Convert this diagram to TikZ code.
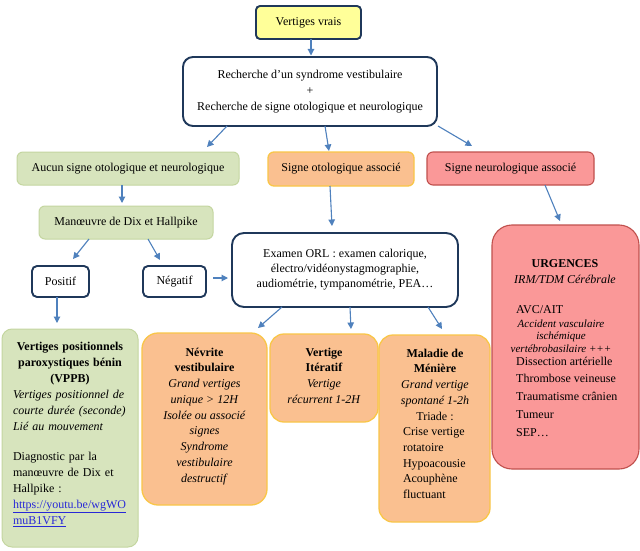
\documentclass[tikz,border=0pt]{standalone}
\usepackage{fontspec}
\setmainfont{Liberation Serif}
\usetikzlibrary{arrows.meta}
\definecolor{navy}{RGB}{31,56,90}
\definecolor{yel}{RGB}{255,255,153}
\definecolor{grfill}{RGB}{215,228,189}
\definecolor{grdraw}{RGB}{196,214,160}
\definecolor{orfill}{RGB}{250,192,144}
\definecolor{ordraw}{RGB}{249,198,72}
\definecolor{rdfill}{RGB}{250,152,152}
\definecolor{rddraw}{RGB}{192,80,77}
\definecolor{arrblue}{RGB}{79,129,189}
\definecolor{linkblue}{RGB}{40,40,215}
\begin{document}
\begin{tikzpicture}[x=1pt,y=-1pt,
  base/.style={inner sep=0pt, outer sep=0pt, font=\fontsize{12}{16}\selectfont, align=center},
  navybox/.style={base, draw=navy, line width=1.9pt, fill=white},
  greenbox/.style={base, draw=grdraw, line width=1pt, fill=grfill, rounded corners=6pt},
  orangebox/.style={base, draw=ordraw, line width=1.3pt, fill=orfill},
  redbox/.style={base, draw=rddraw, line width=1.1pt, fill=rdfill},
  txt/.style={inner sep=0pt, outer sep=0pt, font=\fontsize{12}{15.75}\selectfont},
  arr/.style={draw=arrblue, line width=1.1pt, -{Triangle[length=6.5pt,width=6.5pt]}}
]
\useasboundingbox[fill=white] (0,0) rectangle (640,551);

% top
\node[navybox, fill=yel, rounded corners=4pt, minimum width=105pt, minimum height=33pt] (vrais) at (308.5,22.5) {Vertiges vrais};
\node[navybox, rounded corners=10pt, minimum width=254pt, minimum height=69pt] (rech) at (310,91.5)
  {Recherche d’un syndrome vestibulaire\\+\\Recherche de signe otologique et neurologique};

% second row
\node[greenbox, minimum width=222pt, minimum height=33pt] (aucun) at (128,168.5) {Aucun signe otologique et neurologique};
\node[orangebox, rounded corners=6pt, minimum width=146pt, minimum height=34pt] (oto) at (341,169) {Signe otologique associé};
\node[redbox, rounded corners=6pt, minimum width=167pt, minimum height=33pt] (neuro) at (510.5,168.5) {Signe neurologique associé};

\node[greenbox, minimum width=174pt, minimum height=33pt] (dix) at (126,222.5) {Manœuvre de Dix et Hallpike};

\node[navybox, rounded corners=5pt, minimum width=57pt, minimum height=31pt] (pos) at (60.5,281.5) {Positif};
\node[navybox, rounded corners=5pt, minimum width=63pt, minimum height=31pt] (neg) at (174.5,281.5) {Négatif};
\node[navybox, rounded corners=12pt, minimum width=226pt, minimum height=74pt, font=\fontsize{12}{15}\selectfont] (exam) at (345,270)
  {Examen ORL : examen calorique,\\électro/vidéonystagmographie,\\audiométrie, tympanométrie, PEA…};

% urgences
\node[redbox, rounded corners=20pt, minimum width=147pt, minimum height=244pt] (urg) at (565.5,347) {};
\node[base, anchor=north] (urgT) at (565,255.8) {\strut\textbf{URGENCES}\\\textit{IRM/TDM Cérébrale}};
\node[base, anchor=north west] (urgA) at (516,301.8) {\strut AVC/AIT};
\node[inner sep=0pt, anchor=north, align=center, font=\fontsize{11}{12.7}\selectfont\itshape] (urgI) at (561,318)
  {\strut Accident vasculaire\\ischémique\\vertébrobasilaire +++};
\node[inner sep=0pt, anchor=north west, align=left, font=\fontsize{12}{17.75}\selectfont] (urgL) at (516,352.5)
  {\strut Dissection artérielle\\Thrombose veineuse\\Traumatisme crânien\\Tumeur\\SEP…};

% bottom boxes
\node[greenbox, rounded corners=10pt, minimum width=136pt, minimum height=218pt] (vppb) at (70,438) {};
\node[inner sep=0pt, anchor=north, text width=114pt, align=left, font=\fontsize{12}{16}\selectfont] (vppbT) at (70,338.8)
  {{\centering\strut\textbf{Vertiges positionnels}\\\textbf{paroxystiques bénin}\\\textbf{(VPPB)}\par}%
   \textit{Vertiges positionnel de}\\\textit{courte durée (seconde)}\\\textit{Lié au mouvement}\\[14pt]%
   Diagnostic par la\\manœuvre de Dix et\\Hallpike :\\%
   \textcolor{linkblue}{\underline{https://youtu.be/wgWO}}\\\textcolor{linkblue}{\underline{muB1VFY}}};

\node[orangebox, rounded corners=16pt, minimum width=125pt, minimum height=172pt] (nev) at (204.5,419) {};
\node[txt, anchor=north, align=center] (nevT) at (204.5,345)
  {\strut\textbf{Névrite}\\\textbf{vestibulaire}\\\textit{Grand vertiges}\\\textit{unique > 12H}\\\textit{Isolée ou associé}\\\textit{signes}\\\textit{Syndrome}\\\textit{vestibulaire}\\\textit{destructif}};

\node[orangebox, rounded corners=14pt, minimum width=108pt, minimum height=88pt] (iter) at (324,378) {};
\node[txt, anchor=north, align=center] (iterT) at (324,345)
  {\strut\textbf{Vertige}\\\textbf{Itératif}\\\textit{Vertige}\\\textit{récurrent 1-2H}};

\node[orangebox, rounded corners=14pt, minimum width=111pt, minimum height=187pt] (men) at (434.5,428.5) {};
\node[txt, anchor=north, align=center] (menT) at (435,346)
  {\strut\textbf{Maladie de}\\\textbf{Ménière}\\\textit{Grand vertige}\\\textit{spontané 1-2h}\\Triade :};
\node[txt, anchor=north west, align=left] (menL) at (403,424.5)
  {\strut Crise vertige\\rotatoire\\Hypoacousie\\Acouphène\\fluctuant};

% arrows
\draw[arr] ([xshift=2.5pt]vrais.south) -- ([xshift=1pt,yshift=1.5pt]rech.north);
\draw[arr] ([xshift=-83pt]rech.south) -- ([xshift=79pt,yshift=5pt]aucun.north);
\draw[arr] ([xshift=15pt]rech.south) -- ([xshift=-12pt,yshift=1pt]oto.north);
\draw[arr] ([xshift=128pt]rech.south) -- ([xshift=-38.5pt,yshift=6pt]neuro.north);
\draw[arr] ([xshift=-6pt]aucun.south) -- ([xshift=-4pt,yshift=3pt]dix.north);
\draw[arr] ([xshift=-37pt]dix.south) -- ([xshift=12.5pt,yshift=7pt]pos.north);
\draw[arr] ([xshift=22pt]dix.south) -- ([xshift=-14.5pt,yshift=6pt]neg.north);
\draw[arr] ([xshift=7pt,yshift=3.5pt]neg.east) -- ([xshift=-4pt,yshift=-8pt]exam.west);
\draw[arr] ([xshift=-3.5pt]pos.south) -- ([xshift=-13pt,yshift=6pt]vppb.north);
\draw[arr] ([xshift=-11pt]oto.south) -- ([xshift=-13pt,yshift=7pt]exam.north);
\draw[arr] ([xshift=34.5pt]neuro.south) -- ([xshift=-5.5pt,yshift=4pt]urg.north);
\draw[arr] ([xshift=-63pt]exam.south) -- ([xshift=53.5pt,yshift=5pt]nev.north);
\draw[arr] ([xshift=5pt]exam.south) -- ([xshift=27pt,yshift=5pt]iter.north);
\draw[arr] ([xshift=83pt]exam.south) -- ([xshift=7.5pt,yshift=6pt]men.north);
\end{tikzpicture}
\end{document}
